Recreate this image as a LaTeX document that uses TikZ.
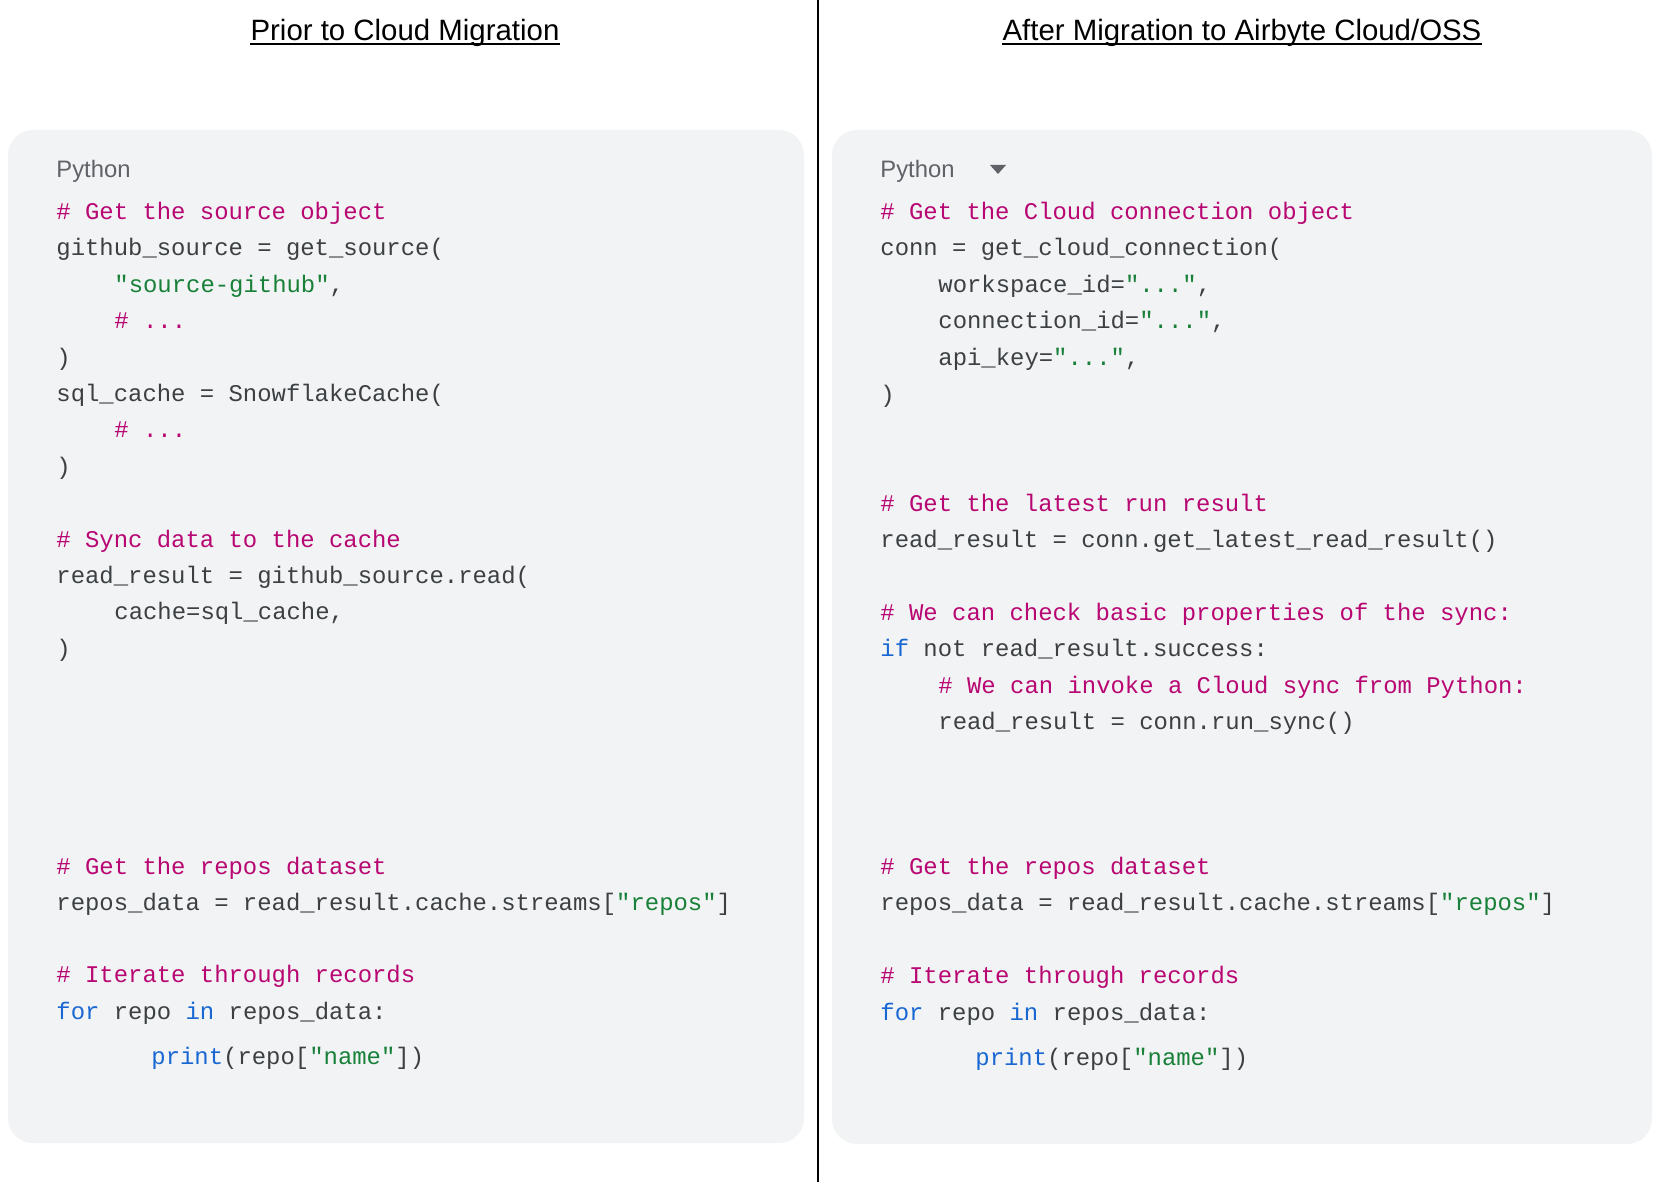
\documentclass[tikz,border=0pt]{standalone}
\usepackage{fontspec}
\setmainfont{Liberation Sans}
\setmonofont{Liberation Mono}
\usepackage{xcolor}
\usetikzlibrary{positioning}
\definecolor{boxgray}{HTML}{F1F3F4}
\definecolor{codegray}{HTML}{3C4043}
\definecolor{labgray}{HTML}{5F6368}
\definecolor{cmtpink}{HTML}{B80672}
\definecolor{strgreen}{HTML}{188038}
\definecolor{kwblue}{HTML}{1967D2}
\newcommand{\strg}[1]{\textcolor{strgreen}{#1}}
\newcommand{\kwd}[1]{\textcolor{kwblue}{#1}}

\begin{document}
\begin{tikzpicture}[
    x=0.5pt, y=-0.5pt,
    code/.style={anchor=base west, inner sep=0pt, yshift=-0.75pt, text=codegray, font=\ttfamily\fontsize{11.96}{14}\selectfont}, % code lines
    cmt/.style={code, text=cmtpink},
    lang/.style={anchor=base west, inner sep=0pt, yshift=-0.5pt, text=labgray, font=\fontsize{11.9}{14}\selectfont},
    title/.style={anchor=base, inner sep=0pt, font=\fontsize{14.7}{18}\selectfont},
    panel/.style={fill=boxgray, rounded corners=12.5pt}
    ]
\useasboundingbox[fill=white] (0,0) rectangle (1660,1182);
\draw[line width=1pt] (818,0) -- (818,1182);

% left: before
\node[title] (t1) at (405,41) {Prior to Cloud Migration};
\draw[line width=1pt] ([yshift=-1.75pt]t1.base west) -- ([yshift=-1.75pt]t1.base east);
\fill[panel] (8,130) rectangle (804,1143);
\node[lang] (p1) at (56,177) {Python};
\node[cmt] (l1) at (56,218) {\# Get the source object};
\node[code] (l2) at (56,254) {github\_source = get\_source(};
\node[code] (l3) at (114,291) {\strg{"source-github"},};
\node[cmt] (l4) at (114,327) {\# ...};
\node[code] (l5) at (56,364) {)};
\node[code] (l6) at (56,400) {sql\_cache = SnowflakeCache(};
\node[cmt] (l7) at (114,436) {\# ...};
\node[code] (l8) at (56,473) {)};
\node[cmt] (l9) at (56,546) {\# Sync data to the cache};
\node[code] (l10) at (56,582) {read\_result = github\_source.read(};
\node[code] (l11) at (114,618) {cache=sql\_cache,};
\node[code] (l12) at (56,655) {)};
\node[cmt] (l13) at (56,873) {\# Get the repos dataset};
\node[code] (l14) at (56,909) {repos\_data = read\_result.cache.streams[\strg{"repos"}]};
\node[cmt] (l15) at (56,981) {\# Iterate through records};
\node[code] (l16) at (56,1018) {\kwd{for} repo \kwd{in} repos\_data:};
\node[code] (l17) at (151,1063) {\kwd{print}(repo[\strg{"name"}])};

% right: after
\node[title] (t2) at (1242,41) {After Migration to Airbyte Cloud/OSS};
\draw[line width=1pt] ([yshift=-1.75pt]t2.base west) -- ([yshift=-1.75pt]t2.base east);
\fill[panel] (832,130) rectangle (1652,1144);
\node[lang] (p2) at (880,177) {Python};
\fill[labgray] (990,165) -- (1006,165) -- (998,174) -- cycle;
\node[cmt] (r1) at (880,218) {\# Get the Cloud connection object};
\node[code] (r2) at (880,254) {conn = get\_cloud\_connection(};
\node[code] (r3) at (938,291) {workspace\_id=\strg{"..."},};
\node[code] (r4) at (938,327) {connection\_id=\strg{"..."},};
\node[code] (r5) at (938,364) {api\_key=\strg{"..."},};
\node[code] (r6) at (880,401) {)};
\node[cmt] (r7) at (880,510) {\# Get the latest run result};
\node[code] (r8) at (880,546) {read\_result = conn.get\_latest\_read\_result()};
\node[cmt] (r9) at (880,619) {\# We can check basic properties of the sync:};
\node[code] (r10) at (880,655) {\kwd{if} not read\_result.success:};
\node[cmt] (r11) at (938,692) {\# We can invoke a Cloud sync from Python:};
\node[code] (r12) at (938,728) {read\_result = conn.run\_sync()};
\node[cmt] (r13) at (880,873) {\# Get the repos dataset};
\node[code] (r14) at (880,909) {repos\_data = read\_result.cache.streams[\strg{"repos"}]};
\node[cmt] (r15) at (880,982) {\# Iterate through records};
\node[code] (r16) at (880,1019) {\kwd{for} repo \kwd{in} repos\_data:};
\node[code] (r17) at (975,1064) {\kwd{print}(repo[\strg{"name"}])};
\end{tikzpicture}
\end{document}
